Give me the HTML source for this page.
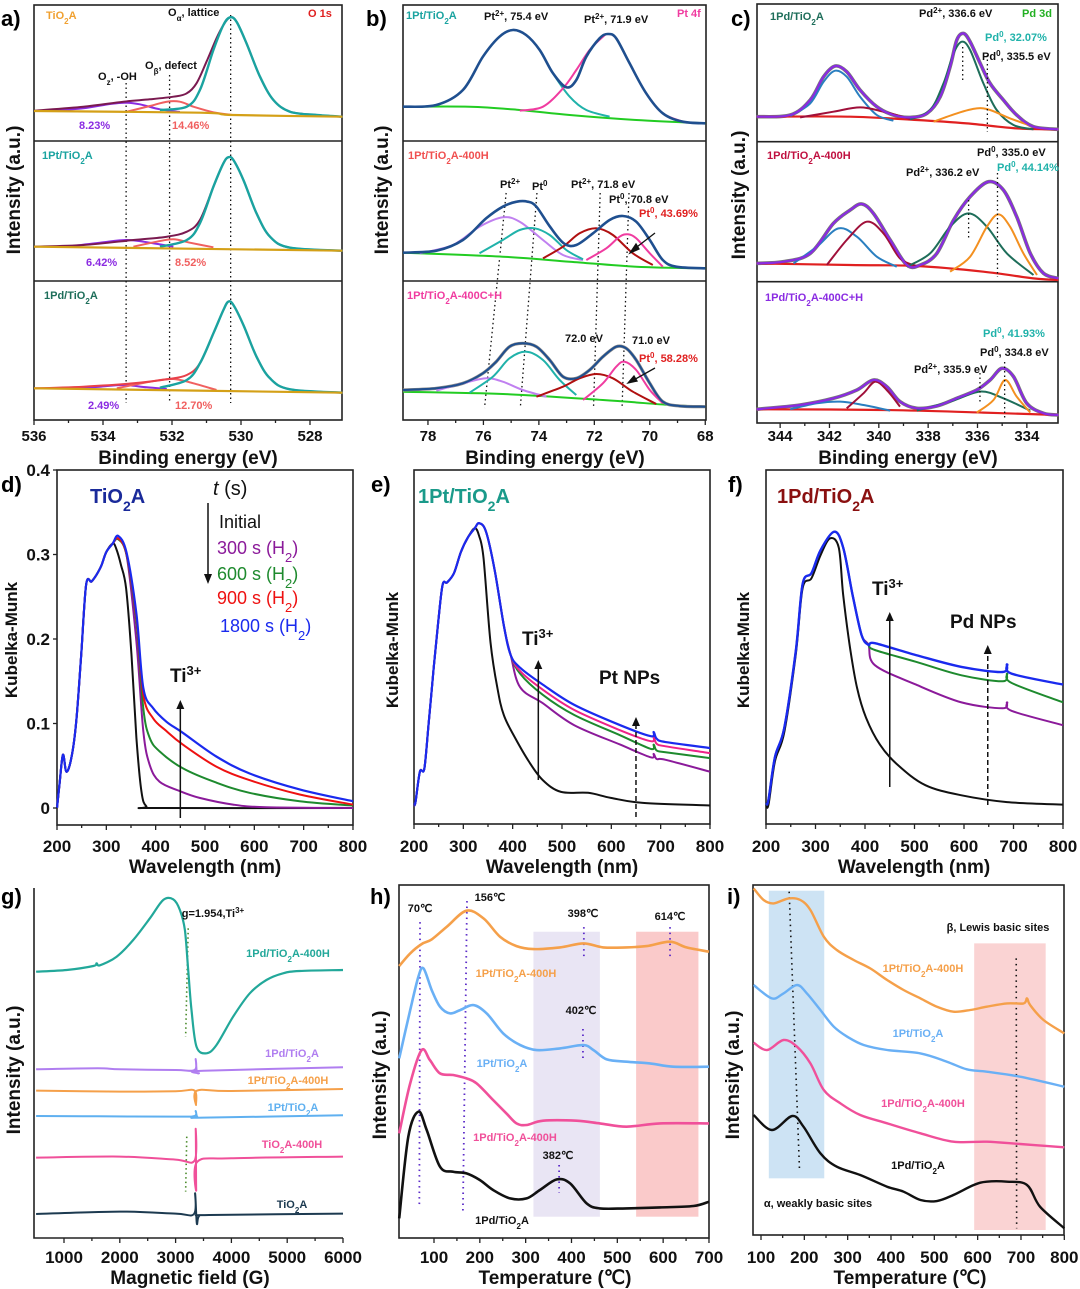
<!DOCTYPE html>
<html><head><meta charset="utf-8"><title>XPS, UV-vis, EPR and TPD panels</title>
<style>
html,body{margin:0;padding:0;background:#fff;}
svg{display:block;font-family:"Liberation Sans",Arial,sans-serif;}
.t{font-weight:bold;}
</style></head>
<body>
<svg id="fig" xmlns="http://www.w3.org/2000/svg" width="1080" height="1289" viewBox="0 0 1080 1289">
<rect x="0" y="0" width="1080" height="1289" fill="#fff"/>
<g id="frames" fill="none" stroke="#222" stroke-width="1.6">
  <rect x="34" y="5" width="308" height="415"/>
  <line x1="34" y1="141" x2="342" y2="141"/>
  <line x1="34" y1="281" x2="342" y2="281"/>
  <rect x="403" y="5" width="303" height="415"/>
  <line x1="403" y1="141" x2="706" y2="141"/>
  <line x1="403" y1="281" x2="706" y2="281"/>
  <rect x="757" y="4" width="301" height="419"/>
  <line x1="757" y1="141.7" x2="1058" y2="141.7"/>
  <line x1="757" y1="281.7" x2="1058" y2="281.7"/>
  <rect x="57" y="470" width="296" height="355"/>
  <rect x="414" y="470" width="296" height="354"/>
  <rect x="766" y="470" width="297" height="354"/>
  <polyline points="34,888 34,1238 343,1238"/>
  <rect x="399" y="885" width="310" height="353"/>
  <rect x="753" y="885" width="311" height="350"/>
</g>
<g id="plots"></g>
<g id="ticks"></g>

<g class="t" font-size="22" fill="#000">
  <text x="1" y="26">a)</text>
  <text x="366" y="26">b)</text>
  <text x="731" y="26">c)</text>
  <text x="1" y="492">d)</text>
  <text x="371" y="492">e)</text>
  <text x="728" y="492">f)</text>
  <text x="1" y="904">g)</text>
  <text x="370" y="904">h)</text>
  <text x="727" y="904">i)</text>
</g>

<g class="t" font-size="19" fill="#111" text-anchor="middle">
  <text x="188" y="464">Binding energy (eV)</text>
  <text x="555" y="464">Binding energy (eV)</text>
  <text x="908" y="464">Binding energy (eV)</text>
  <text x="205" y="873">Wavelength (nm)</text>
  <text x="562" y="873">Wavelength (nm)</text>
  <text x="914" y="873">Wavelength (nm)</text>
  <text x="190" y="1284">Magnetic field (G)</text>
  <text x="555" y="1284">Temperature (℃)</text>
  <text x="910" y="1284">Temperature (℃)</text>
  <text transform="translate(20,190) rotate(-90)">Intensity (a.u.)</text>
  <text transform="translate(388,190) rotate(-90)">Intensity (a.u.)</text>
  <text transform="translate(745,195) rotate(-90)">Intensity (a.u.)</text>
  <text font-size="17" transform="translate(17,640) rotate(-90)">Kubelka-Munk</text>
  <text font-size="17" transform="translate(398,650) rotate(-90)">Kubelka-Munk</text>
  <text font-size="17" transform="translate(749,650) rotate(-90)">Kubelka-Munk</text>
  <text transform="translate(20,1070) rotate(-90)">Intensity (a.u.)</text>
  <text transform="translate(386,1075) rotate(-90)">Intensity (a.u.)</text>
  <text transform="translate(739,1075) rotate(-90)">Intensity (a.u.)</text>
</g>

<g class="t" font-size="11">
  <text x="46" y="19" fill="#f0a030">TiO<tspan font-size="8" baseline-shift="sub">2</tspan>A</text>
  <text x="168" y="16" fill="#111">O<tspan font-size="8" baseline-shift="sub">α</tspan>, lattice</text>
  <text x="308" y="17" fill="#e02020">O 1s</text>
  <text x="98" y="80" fill="#111">O<tspan font-size="8" baseline-shift="sub">z</tspan>, -OH</text>
  <text x="145" y="69" fill="#111">O<tspan font-size="8" baseline-shift="sub">β</tspan>, defect</text>
  <text x="79" y="129" fill="#8b2be2">8.23%</text>
  <text x="172" y="129" fill="#f06060">14.46%</text>
  <text x="42" y="159" fill="#1aa3a0">1Pt/TiO<tspan font-size="8" baseline-shift="sub">2</tspan>A</text>
  <text x="86" y="266" fill="#8b2be2">6.42%</text>
  <text x="175" y="266" fill="#f06060">8.52%</text>
  <text x="44" y="299" fill="#1e6e5a">1Pd/TiO<tspan font-size="8" baseline-shift="sub">2</tspan>A</text>
  <text x="88" y="409" fill="#8b2be2">2.49%</text>
  <text x="175" y="409" fill="#f06060">12.70%</text>
</g>
<g class="t" font-size="11">
  <text x="406" y="19" fill="#1aa3a0">1Pt/TiO<tspan font-size="8" baseline-shift="sub">2</tspan>A</text>
  <text x="484" y="20" fill="#111">Pt<tspan font-size="8" baseline-shift="super">2+</tspan>, 75.4 eV</text>
  <text x="584" y="23" fill="#111">Pt<tspan font-size="8" baseline-shift="super">2+</tspan>, 71.9 eV</text>
  <text x="677" y="17" fill="#f03ca0">Pt 4f</text>
  <text x="408" y="159" fill="#f05050">1Pt/TiO<tspan font-size="8" baseline-shift="sub">2</tspan>A-400H</text>
  <text x="500" y="188" fill="#111">Pt<tspan font-size="8" baseline-shift="super">2+</tspan></text>
  <text x="532" y="190" fill="#111">Pt<tspan font-size="8" baseline-shift="super">0</tspan></text>
  <text x="571" y="188" fill="#111">Pt<tspan font-size="8" baseline-shift="super">2+</tspan>, 71.8 eV</text>
  <text x="609" y="203" fill="#111">Pt<tspan font-size="8" baseline-shift="super">0</tspan>, 70.8 eV</text>
  <text x="639" y="217" fill="#e02020">Pt<tspan font-size="8" baseline-shift="super">0</tspan>, 43.69%</text>
  <text x="407" y="299" fill="#f03ca0">1Pt/TiO<tspan font-size="8" baseline-shift="sub">2</tspan>A-400C+H</text>
  <text x="565" y="342" fill="#111">72.0 eV</text>
  <text x="632" y="344" fill="#111">71.0 eV</text>
  <text x="639" y="362" fill="#e02020">Pt<tspan font-size="8" baseline-shift="super">0</tspan>, 58.28%</text>
</g>
<g stroke="#111" stroke-width="1.3">
  <line x1="655" y1="233" x2="633" y2="250"/>
  <polygon points="630,253 636,244 639,249" fill="#111"/>
  <line x1="655" y1="368" x2="632" y2="381"/>
  <polygon points="628,383 634,376 637,381" fill="#111"/>
</g>
<g class="t" font-size="11">
  <text x="770" y="20" fill="#1e6e5a">1Pd/TiO<tspan font-size="8" baseline-shift="sub">2</tspan>A</text>
  <text x="919" y="17" fill="#111">Pd<tspan font-size="8" baseline-shift="super">2+</tspan>, 336.6 eV</text>
  <text x="1022" y="17" fill="#22b022">Pd 3d</text>
  <text x="985" y="41" fill="#20b2aa">Pd<tspan font-size="8" baseline-shift="super">0</tspan>, 32.07%</text>
  <text x="982" y="60" fill="#111">Pd<tspan font-size="8" baseline-shift="super">0</tspan>, 335.5 eV</text>
  <text x="767" y="159" fill="#c01040">1Pd/TiO<tspan font-size="8" baseline-shift="sub">2</tspan>A-400H</text>
  <text x="977" y="156" fill="#111">Pd<tspan font-size="8" baseline-shift="super">0</tspan>, 335.0 eV</text>
  <text x="906" y="176" fill="#111">Pd<tspan font-size="8" baseline-shift="super">2+</tspan>, 336.2 eV</text>
  <text x="997" y="171" fill="#20b2aa">Pd<tspan font-size="8" baseline-shift="super">0</tspan>, 44.14%</text>
  <text x="765" y="301" fill="#8a2be2">1Pd/TiO<tspan font-size="8" baseline-shift="sub">2</tspan>A-400C+H</text>
  <text x="983" y="337" fill="#20b2aa">Pd<tspan font-size="8" baseline-shift="super">0</tspan>, 41.93%</text>
  <text x="980" y="356" fill="#111">Pd<tspan font-size="8" baseline-shift="super">0</tspan>, 334.8 eV</text>
  <text x="914" y="373" fill="#111">Pd<tspan font-size="8" baseline-shift="super">2+</tspan>, 335.9 eV</text>
</g>
<g font-size="18">
  <text class="t" x="90" y="503" fill="#1a2a9a" font-size="20">TiO<tspan font-size="14" baseline-shift="sub">2</tspan>A</text>
  <text x="213" y="495" fill="#111" font-size="20"><tspan font-style="italic">t</tspan> (s)</text>
  <line x1="208" y1="503" x2="208" y2="578" stroke="#111" stroke-width="1.5"/>
  <polygon points="204,574 212,574 208,584" fill="#111"/>
  <text x="219" y="528" fill="#111">Initial</text>
  <text x="217" y="554" fill="#8b1a9a">300 s (H<tspan font-size="13" baseline-shift="sub">2</tspan>)</text>
  <text x="217" y="580" fill="#1e8a2e">600 s (H<tspan font-size="13" baseline-shift="sub">2</tspan>)</text>
  <text x="217" y="604" fill="#ee1111">900 s (H<tspan font-size="13" baseline-shift="sub">2</tspan>)</text>
  <text x="220" y="632" fill="#1a2aee">1800 s (H<tspan font-size="13" baseline-shift="sub">2</tspan>)</text>
  <text class="t" x="170" y="682" fill="#111" font-size="19">Ti<tspan font-size="13" baseline-shift="super">3+</tspan></text>
  <text class="t" x="418" y="503" fill="#1a9a8a" font-size="20">1Pt/TiO<tspan font-size="14" baseline-shift="sub">2</tspan>A</text>
  <text class="t" x="522" y="645" fill="#111" font-size="19">Ti<tspan font-size="13" baseline-shift="super">3+</tspan></text>
  <text class="t" x="599" y="684" fill="#111" font-size="19">Pt NPs</text>
  <text class="t" x="777" y="503" fill="#8a1010" font-size="20">1Pd/TiO<tspan font-size="14" baseline-shift="sub">2</tspan>A</text>
  <text class="t" x="872" y="595" fill="#111" font-size="19">Ti<tspan font-size="13" baseline-shift="super">3+</tspan></text>
  <text class="t" x="950" y="628" fill="#111" font-size="19">Pd NPs</text>
</g>
<g class="t" font-size="11" text-anchor="middle">
  <text x="213" y="917" fill="#111">g=1.954,Ti<tspan font-size="8" baseline-shift="super">3+</tspan></text>
  <text x="288" y="957" fill="#22a89a">1Pd/TiO<tspan font-size="8" baseline-shift="sub">2</tspan>A-400H</text>
  <text x="292" y="1057" fill="#b07ef0">1Pd/TiO<tspan font-size="8" baseline-shift="sub">2</tspan>A</text>
  <text x="288" y="1084" fill="#f5a04a">1Pt/TiO<tspan font-size="8" baseline-shift="sub">2</tspan>A-400H</text>
  <text x="293" y="1111" fill="#5fb0f0">1Pt/TiO<tspan font-size="8" baseline-shift="sub">2</tspan>A</text>
  <text x="292" y="1148" fill="#f0509a">TiO<tspan font-size="8" baseline-shift="sub">2</tspan>A-400H</text>
  <text x="292" y="1208" fill="#1c3a50">TiO<tspan font-size="8" baseline-shift="sub">2</tspan>A</text>
</g>
<g class="t" font-size="11" text-anchor="middle">
  <text x="420" y="912" fill="#111">70℃</text>
  <text x="490" y="901" fill="#111">156℃</text>
  <text x="583" y="917" fill="#111">398℃</text>
  <text x="670" y="920" fill="#111">614℃</text>
  <text x="581" y="1014" fill="#111">402℃</text>
  <text x="558" y="1159" fill="#111">382℃</text>
  <text x="516" y="977" fill="#f5a04a">1Pt/TiO<tspan font-size="8" baseline-shift="sub">2</tspan>A-400H</text>
  <text x="502" y="1067" fill="#6ab0f5">1Pt/TiO<tspan font-size="8" baseline-shift="sub">2</tspan>A</text>
  <text x="515" y="1141" fill="#f0509a">1Pd/TiO<tspan font-size="8" baseline-shift="sub">2</tspan>A-400H</text>
  <text x="502" y="1224" fill="#111">1Pd/TiO<tspan font-size="8" baseline-shift="sub">2</tspan>A</text>
</g>
<g class="t" font-size="11" text-anchor="middle">
  <text x="998" y="931" fill="#111">β, Lewis basic sites</text>
  <text x="923" y="972" fill="#f5a04a">1Pt/TiO<tspan font-size="8" baseline-shift="sub">2</tspan>A-400H</text>
  <text x="918" y="1037" fill="#6ab0f5">1Pt/TiO<tspan font-size="8" baseline-shift="sub">2</tspan>A</text>
  <text x="923" y="1107" fill="#f0509a">1Pd/TiO<tspan font-size="8" baseline-shift="sub">2</tspan>A-400H</text>
  <text x="918" y="1169" fill="#111">1Pd/TiO<tspan font-size="8" baseline-shift="sub">2</tspan>A</text>
  <text x="818" y="1207" fill="#111">α, weakly basic sites</text>
</g>
</svg>
<script>
// ---------- Panel a (O 1s) ----------
const aTicks=[536,534,532,530,528];
const aPeaks=[533.33,532.07,530.3];
const a1Base=[[536,9.0],[531.19,8.5],[530.22,7.8],[527.06,7.3]];
const a1Env=[[536,9.1],[534.57,10.3],[533.41,11.8],[532.64,12.5],[531.96,13.3],[531.57,14.3],[531.29,17.3],[531.0,23.8],[530.71,30.8],[530.51,34.8],[530.32,37.1],[530.13,35.8],[529.84,29.3],[529.45,19.3],[529.06,12.3],[528.58,8.8],[527.81,7.8],[527.06,7.3]];
const a1Lat=[[532.35,9.3],[531.57,10.3],[531.19,15.3],[530.80,27.3],[530.51,34.8],[530.32,37.1],[530.13,35.8],[529.84,29.3],[529.45,19.3],[529.06,12.3],[528.58,8.8],[527.81,7.8],[527.06,7.3]];
const a1OH=[[535.54,9],[534.57,9.8],[533.80,11.1],[533.36,11.5],[532.93,11],[532.35,9.5],[531.77,8.7]];
const a1Def=[[533.31,8.8],[532.64,10.5],[532.15,11.8],[531.77,11.8],[531.38,10.3],[530.80,8.6],[530.22,7.8]];
const a2Base=[[536,10.3],[527.06,9.1]];
const a2Env=[[536,10.3],[534.57,10.8],[533.12,12.3],[532.15,13.3],[531.57,14.8],[531.19,18.3],[530.80,28.3],[530.51,35.3],[530.37,37.1],[530.22,36.3],[529.93,30.3],[529.55,20.3],[529.16,13.3],[528.58,10.0],[527.06,9.1]];
const a2Lat=[[532.35,10.3],[531.57,12.3],[531.19,17.3],[530.80,28.3],[530.51,35.3],[530.37,37.1],[530.22,36.3],[529.93,30.3],[529.55,20.3],[529.16,13.3],[528.58,10.0],[527.06,9.1]];
const a2OH=[[535.05,10.3],[534.09,11.5],[533.31,12.3],[532.64,11.5],[531.96,10.3]];
const a2Def=[[533.12,10.3],[532.44,11.8],[531.96,12.5],[531.48,11.5],[530.80,10.1]];
const a3Base=[[536,9.5],[527.06,8.2]];
const a3Env=[[536,9.5],[534.57,10],[533.12,11],[532.15,12.2],[531.57,13.5],[531.19,17],[530.80,26],[530.51,33],[530.37,35.5],[530.22,34.5],[529.93,28.5],[529.55,19],[529.16,12.5],[528.58,9.2],[527.06,8.2]];
const a3Lat=[[532.35,9.7],[531.57,12.0],[531.19,17],[530.80,26],[530.51,33],[530.37,35.5],[530.22,34.5],[529.93,28.5],[529.55,19],[529.16,12.5],[528.58,9.2],[527.06,8.2]];
const a3OH=[[534.76,9.5],[534.09,10],[533.41,10.5],[532.73,9.8],[532.15,9.3]];
const a3Def=[[533.60,9.5],[532.64,11.5],[531.96,12.3],[531.38,11],[530.71,9]];
// ---------- Panel b (Pt 4f) ----------
const bTicks=[78,76,74,72,70,68];
const b1Base=[[78.9,10.3],[76.5,10.3],[74.69,9.3],[72.89,7.8],[70.49,6.3],[68,5.3]];
const b1Env=[[78.9,10.3],[77.7,10.8],[76.74,15.3],[76.02,25.3],[75.42,31.3],[74.94,33.3],[74.46,31.8],[73.97,27.3],[73.49,20.3],[73.01,16.1],[72.65,18.3],[72.29,25.3],[71.81,30.8],[71.51,32.1],[71.21,30.8],[70.73,23.3],[70.13,14.3],[69.53,8.3],[68.81,5.8],[68,5.3]];
const b1Pt2a=[[78.9,10.3],[77.7,10.8],[76.74,15.3],[76.02,25.3],[75.42,31.3],[74.94,33.3],[74.46,31.8],[73.97,27.3],[73.49,20.3],[72.89,13.3],[72.29,9.3],[71.45,7.3]];
const b1Pt2b=[[74.69,9.1],[73.85,10.3],[73.13,15.8],[72.65,21.3],[72.17,27.3],[71.69,31.3],[71.51,32.1],[71.21,30.8],[70.73,23.3],[70.13,14.3],[69.53,8.3],[68.81,5.8]];
const b2Base=[[78.9,8.5],[75.3,7.3],[72.89,5.8],[70.49,4.3],[68,3.8]];
const b2Env=[[78.9,8.5],[77.7,9.1],[76.74,12.3],[75.9,18.8],[75.3,22.3],[74.8,23.8],[74.4,23.8],[74.09,22.3],[73.6,16.3],[73.1,11.3],[72.65,10.8],[72.05,14.3],[71.45,18.3],[70.97,19.5],[70.49,17.8],[70.0,12.3],[69.53,6.3],[69.05,4.3],[68,3.8]];
const b2Pt2=[[78.3,8.3],[77.1,10.8],[76.14,16.3],[75.3,19.1],[74.69,17.8],[73.85,12.3],[73.13,7.8],[72.41,6.3]];
const b2Pt0=[[76.14,8.3],[75.3,12.3],[74.69,15.3],[74.15,15.8],[73.61,13.8],[73.01,9.3],[72.41,6.5]];
const b2Pt2b=[[73.85,6.8],[73.13,10.3],[72.53,14.3],[71.93,15.8],[71.33,13.8],[70.61,8.3],[69.89,4.8]];
const b2Pt0b=[[72.29,6.3],[71.57,9.8],[71.09,13.3],[70.79,14.0],[70.49,12.8],[70.0,8.3],[69.53,4.3]];
const b3Base=[[78.9,8.5],[75.3,7.8],[71.69,6.0],[69.29,4.5],[68,4.0]];
const b3Env=[[78.9,9],[77.7,9.5],[76.74,11],[76.02,14],[75.54,17.5],[75.06,22],[74.58,23],[74.09,22],[73.61,18],[73.13,13],[72.65,12.5],[72.17,15],[71.69,19],[71.21,22],[70.85,21.5],[70.49,18],[70.0,11],[69.53,5.5],[68.93,4.2],[68,4]];
const b3Pt2=[[77.7,8.8],[76.74,11],[75.9,12.5],[75.3,11.5],[74.58,9],[73.73,7]];
const b3Pt0=[[76.5,8.2],[75.66,13],[75.06,18.5],[74.45,20.5],[73.85,18],[73.25,12],[72.65,7.5]];
const b3Pt2b=[[74.09,7],[73.13,10],[72.53,12.5],[71.93,13.8],[71.33,12.5],[70.61,8.5],[69.77,4.8]];
const b3Pt0b=[[72.41,6],[71.69,11],[71.21,16],[70.91,17.5],[70.49,15],[70.0,9],[69.53,5]];
const bGuides=[[75.18,75.96],[74.07,74.67],[71.79,72.03],[70.75,71.0]];
// ---------- Panel c (Pd 3d) ----------
const cTicks=[344,342,340,338,336,334];
const c1Base=[[344.95,7.5],[341.16,7.5],[338.46,6.5],[336.43,5.5],[334.41,4.0],[332.72,3.7]];
const c1Env=[[344.95,7.5],[343.59,8],[342.78,12.5],[342.24,19.5],[341.77,22.7],[341.30,21],[340.76,15.5],[340.08,10.5],[339.41,8],[338.73,7.3],[338.05,8.5],[337.51,13.5],[337.11,22.5],[336.84,30.5],[336.57,32.5],[336.30,30],[335.89,23.5],[335.49,17.5],[334.95,12.5],[334.41,8],[333.73,4.5],[332.72,3.7]];
const c1Pd2a=[[343.59,7.7],[342.78,11.5],[342.24,18],[341.77,21.3],[341.30,19.5],[340.76,13.5],[340.08,8],[339.41,6.3]];
const c1Pd2b=[[343.19,7.3],[341.84,9],[340.76,10.3],[339.81,9],[338.73,6.8]];
const c1Pd2c=[[338.73,6.7],[337.92,9.5],[337.38,17.5],[336.97,26.5],[336.64,30],[336.30,27.5],[335.76,17.5],[335.22,9.5],[334.54,5],[333.73,3.7]];
const c1Pd0=[[337.78,6],[336.84,8.5],[336.03,10],[335.49,9.5],[334.68,7],[333.73,4.5]];
const c2Base=[[344.95,5.5],[341.16,5],[338.46,4.7],[335.76,3],[333.73,1],[332.72,0.5]];
const c2Env=[[344.95,5.5],[343.86,6],[342.78,8.5],[341.84,17.5],[341.16,21.5],[340.69,23.3],[340.22,20.5],[339.54,12.5],[338.86,5],[338.32,5],[337.65,8.5],[336.97,18.5],[336.30,25.5],[335.55,30],[334.95,27.5],[334.41,19.5],[333.86,8.5],[333.32,2.5],[332.72,1]];
const c2Pd2a=[[343.46,5.5],[342.51,10.5],[341.64,16],[340.89,13.5],[340.08,7.5],[339.27,4.5]];
const c2Pd2b=[[342.11,5],[341.30,12.5],[340.49,18],[339.81,14.5],[339.14,7],[338.46,4.7]];
const c2Pd2c=[[338.86,4.5],[337.92,8.5],[337.11,16.5],[336.36,20.5],[335.62,16.5],[334.81,8.5],[333.73,2]];
const c2Pd0=[[337.11,3],[336.30,7.5],[335.62,16.5],[335.15,20.2],[334.68,16.5],[334.14,8.5],[333.59,2]];
const c3Base=[[344.95,4.2],[339.81,4],[335.76,3.2],[332.72,2.5]];
const c3Env=[[344.95,4.2],[343.19,5.5],[341.84,7.5],[340.89,10],[340.22,13],[339.68,11],[339.14,6.5],[338.46,4.5],[337.65,5.2],[336.84,7.5],[336.03,10],[335.49,13],[335.01,16.5],[334.54,14],[334.0,6],[333.32,3],[332.72,2.5]];
const c3Pd2a=[[343.59,4.2],[342.51,6],[341.57,6.5],[340.62,5.5],[339.54,3.8]];
const c3Pd2b=[[341.30,4.5],[340.62,9],[340.15,12.5],[339.68,10],[339.14,5]];
const c3Pd2c=[[338.46,3.8],[337.11,6.5],[335.89,9.5],[334.95,7.5],[333.86,3.8]];
const c3Pd0=[[336.03,3.2],[335.35,7],[334.88,13],[334.41,8],[333.86,3.2]];
const cGuides1=[336.6,335.6];
const cGuides2=[336.36,335.19];
const cGuides3=[335.9,334.9];
// ---------- Panel d/e/f (Kubelka-Munk) ----------
const dxTicks=[200,300,400,500,600,700,800];
const dyTicks=[0,0.1,0.2,0.3,0.4];
const dyLabels=["0","0.1","0.2","0.3","0.4"];
const dRise=[[200,0],[205,0.028],[212,0.063],[219,0.043],[229,0.059],[239,0.102],[249,0.181],[259,0.264],[270,0.268],[280,0.276],[290,0.287],[300,0.303],[313,0.313]];
const dInit=[[320,0.307],[330,0.287],[340,0.260],[351,0.181],[361,0.083],[371,0.020],[381,0.002],[401,0],[800,0]];
const d300=[[324,0.318],[341,0.299],[361,0.197],[375,0.091],[388,0.051],[408,0.031],[449,0.020],[489,0.012],[557,0.004],[624,0.001],[800,0]];
const d600=[[324,0.318],[341,0.299],[361,0.22],[375,0.118],[388,0.083],[408,0.067],[455,0.047],[523,0.030],[590,0.018],[692,0.008],[800,0.003]];
const d900=[[324,0.319],[341,0.300],[361,0.225],[375,0.134],[395,0.106],[422,0.091],[455,0.075],[523,0.049],[590,0.033],[692,0.016],[800,0.004]];
const d1800=[[324,0.322],[341,0.302],[361,0.23],[375,0.142],[395,0.118],[422,0.102],[455,0.089],[523,0.061],[590,0.041],[692,0.022],[800,0.008]];
const eRise=[[200,0.004],[203,0.007],[212,0.043],[221,0.047],[230,0.102],[240,0.166],[249,0.220],[258,0.264],[267,0.267],[281,0.278],[295,0.303],[309,0.320],[323,0.331]];
const eInit=[[332,0.322],[341,0.295],[355,0.196],[369,0.142],[382,0.110],[405,0.083],[433,0.055],[461,0.033],[498,0.019],[553,0.018],[599,0.012],[664,0.006],[800,0.003]];
const eTop=[[332,0.337],[346,0.327],[364,0.280],[383,0.213],[396,0.181]];
const e1800=[[415,0.166],[461,0.146],[525,0.122],[618,0.098],[680,0.085],[686,0.090],[692,0.082],[710,0.078],[800,0.071]];
const e900=[[415,0.162],[461,0.140],[525,0.116],[618,0.092],[680,0.079],[686,0.084],[692,0.076],[710,0.073],[800,0.065]];
const e600=[[415,0.159],[461,0.134],[525,0.110],[618,0.086],[680,0.070],[686,0.075],[692,0.068],[710,0.066],[800,0.059]];
const e300=[[415,0.143],[461,0.124],[525,0.098],[618,0.075],[680,0.060],[686,0.064],[692,0.058],[710,0.057],[800,0.043]];
const fInit=[[200,0.004],[205,0.004],[218,0.055],[237,0.090],[260,0.181],[274,0.260],[292,0.272],[310,0.299],[329,0.319],[347,0.308],[356,0.252],[370,0.189],[384,0.142],[402,0.107],[430,0.075],[466,0.051],[522,0.027],[595,0.015],[687,0.007],[800,0.004]];
const fTop=[[200,0.004],[205,0.010],[218,0.060],[237,0.095],[260,0.185],[274,0.265],[292,0.278],[310,0.305],[338,0.327],[356,0.308],[375,0.252],[393,0.205],[407,0.193]];
const f1800=[[420,0.195],[503,0.181],[595,0.167],[678,0.161],[687,0.170],[696,0.159],[800,0.146]];
const f600=[[420,0.187],[503,0.173],[595,0.157],[678,0.150],[687,0.159],[696,0.148],[800,0.125]];
const f300=[[420,0.169],[503,0.146],[595,0.125],[678,0.118],[687,0.125],[696,0.115],[800,0.098]];
// ---------- Panel g (EPR) ----------
const gTicks=[1000,2000,3000,4000,5000,6000];
const g1Pd400H=[[500,80],[1048,80.5],[1525,81.7],[1585,82.5],[1644,81.9],[1943,84.5],[2241,89.5],[2539,96],[2778,101.5],[2957,101.7],[3077,98.5],[3166,92.5],[3226,80.5],[3285,68.5],[3375,57.5],[3554,55.5],[3733,58],[4031,66.5],[4330,73.5],[4628,77.5],[4926,79.5],[5225,80.2],[6000,80.5]];
const g1Pd=[[500,50.7],[1600,51],[2000,50.7],[3000,50.5],[3340,50.5],[3360,53.8],[3380,50],[3420,49.5],[3500,50.3],[6000,51.3]];
const g1Pt400H=[[500,44.3],[2000,44.0],[3000,44.1],[3340,44.3],[3365,40],[3385,44.3],[4000,44.2],[6000,44.8]];
const g1Pt=[[500,36.7],[1600,36.6],[3000,36.5],[3340,36.7],[3360,38.2],[3390,36.4],[3500,36.2],[6000,36.9]];
const gTi400H=[[500,24.2],[2000,24.5],[3000,23.6],[3340,23.3],[3360,32.7],[3370,14.5],[3390,23.0],[4000,24],[6000,24.5]];
const gTi=[[500,7.3],[2000,8],[3000,7.4],[3330,7.3],[3350,13.5],[3380,4.5],[3420,6.6],[3600,7.0],[6000,7.4]];
const gGuide=[[3226,93],[3180,60.5],[3200,30.5],[3180,14]];
// ---------- Panel h (H2-TPD) ----------
const hTicks=[100,200,300,400,500,600,700];
const hOrange=[[24,81.5],[48,85.3],[73,88.1],[95,89.5],[128,93.3],[171,98.1],[208,95.8],[244,90.3],[280,87.5],[317,86.6],[375,87.1],[426,88.3],[469,87.1],[520,87.1],[564,87.5],[615,88.8],[651,87.1],[700,85.8]];
const hBlue=[[24,53.8],[48,68.3],[66,78.3],[77,80.8],[95,74.3],[113,69.3],[135,67.3],[157,68.3],[186,69.8],[215,67.3],[251,61.3],[288,57.8],[324,56.3],[375,56.8],[426,57.8],[448,56.3],[477,53.5],[520,52.8],[571,52.3],[622,51.3],[700,51.3]];
const hPink=[[24,31.3],[48,46.3],[73,56.3],[91,53.3],[113,49.3],[142,48.8],[171,47.8],[193,46.3],[229,41.3],[258,37.3],[280,34.3],[302,33.8],[338,35.1],[411,35.1],[462,34.3],[520,33.3],[593,34.3],[700,34.3]];
const hBlack=[[24,5.8],[44,30.3],[66,37.8],[84,32.3],[113,21.3],[142,19.8],[171,19.3],[200,17.3],[229,14.3],[266,11.8],[302,11.8],[331,14.3],[368,17.5],[397,16.3],[433,10.3],[462,8.8],[520,8.8],[593,9.1],[666,9.5],[700,10.8]];
const hBands=[[317,462,91.8,6.3],[541,677,91.8,6.3]];
const hGuides=[[69.5,68,94.7,8.9],[172,163,101,7.4],[427,427,93.2,84.2],[615,615,93.2,84.2],[425,425,62.6,53.6],[373,373,21.8,13.4]];
// ---------- Panel i (CO2-TPD) ----------
const iTicks=[100,200,300,400,500,600,700,800];
const iOrange=[[83,104],[106,100.5],[129,99.5],[164,101],[191,100.5],[214,97.5],[245,89.5],[275,85.5],[314,82.5],[352,80],[391,76.5],[429,73.5],[468,71],[506,68.5],[544,67],[583,67.5],[621,68.5],[668,69.5],[706,69.5],[714,71],[721,69],[752,64.5],[800,60.5]];
const iBlue=[[83,75],[125,71],[152,72.5],[183,75],[206,72.5],[237,67.5],[268,62.5],[299,59.5],[337,57],[391,55.5],[468,54.5],[529,52],[575,49.7],[621,49],[698,47.5],[800,44.5]];
const iPink=[[83,57.7],[114,55.5],[152,58.5],[183,56.5],[214,51.5],[245,43.5],[283,39.5],[329,36],[391,33.5],[468,30.5],[544,28],[621,28],[698,27.3],[800,26.3]];
const iBlack=[[83,36],[125,31.5],[172,35.7],[198,32.5],[237,24.5],[275,20.5],[329,18],[391,14.5],[429,13],[468,10.5],[506,10.2],[544,12],[591,15],[621,16],[668,16],[714,15],[744,8.5],[800,2]];
const iBands=[[118,246,103.3,17,"#bcd9f0"],[592,757,87.5,1.5,"#f8c4c4"]];
const iGuides=[[165,189,103,19],[689,690,83,2]];

// ---------- drawing ----------
const NS="http://www.w3.org/2000/svg";
const plots=document.getElementById('plots');
const tickLayer=document.getElementById('ticks');
function smooth(p){
  if(p.length<2) return "";
  let d="M"+p[0][0].toFixed(1)+","+p[0][1].toFixed(1);
  for(let i=0;i<p.length-1;i++){
    const p0=p[i-1]||p[i],p1=p[i],p2=p[i+1],p3=p[i+2]||p2;
    const c1x=p1[0]+(p2[0]-p0[0])/6,c1y=p1[1]+(p2[1]-p0[1])/6;
    const c2x=p2[0]-(p3[0]-p1[0])/6,c2y=p2[1]-(p3[1]-p1[1])/6;
    d+="C"+c1x.toFixed(1)+","+c1y.toFixed(1)+" "+c2x.toFixed(1)+","+c2y.toFixed(1)+" "+p2[0].toFixed(1)+","+p2[1].toFixed(1);
  }
  return d;
}
function curve(data,sx,sy,color,w,name,dash){
  const p=document.createElementNS(NS,'path');
  
  
  p.setAttribute('d',smooth(data.map(q=>[sx(q[0]),sy(q[1])])));
  p.setAttribute('fill','none');
  p.setAttribute('stroke',color);
  p.setAttribute('stroke-width',w);
  p.setAttribute('stroke-linejoin','round');
  if(dash) p.setAttribute('stroke-dasharray',dash);
  plots.appendChild(p);
}
function seg(x1,y1,x2,y2,color,w,name,dash){
  const l=document.createElementNS(NS,'line');
  
  
  l.setAttribute('x1',x1);l.setAttribute('y1',y1);l.setAttribute('x2',x2);l.setAttribute('y2',y2);
  l.setAttribute('stroke',color);l.setAttribute('stroke-width',w);
  if(dash) l.setAttribute('stroke-dasharray',dash);
  plots.appendChild(l);
}
function band(x1,x2,y1,y2,color,name){
  const r=document.createElementNS(NS,'rect');
  
  
  r.setAttribute('x',Math.min(x1,x2));r.setAttribute('y',Math.min(y1,y2));
  r.setAttribute('width',Math.abs(x2-x1));r.setAttribute('height',Math.abs(y2-y1));
  r.setAttribute('fill',color);r.setAttribute('opacity','0.75');
  plots.appendChild(r);
}
function label(x,y,txt,size,anchor,name){
  const t=document.createElementNS(NS,'text');
  
  
  t.setAttribute('x',x);t.setAttribute('y',y);
  t.setAttribute('font-size',size);t.setAttribute('font-weight','bold');
  t.setAttribute('text-anchor',anchor);t.setAttribute('fill','#111');
  t.textContent=txt;
  tickLayer.appendChild(t);
}
function tickmark(x1,y1,x2,y2,name){
  const l=document.createElementNS(NS,'line');
  
  
  l.setAttribute('x1',x1);l.setAttribute('y1',y1);l.setAttribute('x2',x2);l.setAttribute('y2',y2);
  l.setAttribute('stroke','#222');l.setAttribute('stroke-width','1.3');
  tickLayer.appendChild(l);
}
function xAxis(ticks,sx,yb,ly,size,minorStep,prefix){
  ticks.forEach(v=>{tickmark(sx(v),yb,sx(v),yb+5,prefix+'-tick');label(sx(v),ly,String(v),size,'middle',prefix+'-tick-label');});
  if(minorStep){
    const lo=Math.min(...ticks),hi=Math.max(...ticks);
    for(let v=lo+minorStep;v<hi;v+=2*minorStep){tickmark(sx(v),yb,sx(v),yb+3,prefix+'-minor-tick');}
  }
}
const xa=E=>34+(536-E)*34.5;
const xb=E=>403+(78.9-E)*27.73;
const xc=E=>756.7+(344.95-E)*24.67;
const sub=b=>(v=>b-v*3.333);
const ya1=sub(141),ya2=sub(281),ya3=sub(420);
const yc1=sub(141.7),yc2=sub(281.7),yc3=sub(423.3);
const xd=n=>57+(n-200)*0.4933, yd=v=>808-v*845;
const xe=n=>414+(n-200)*0.4933;
const xf=n=>766+(n-200)*0.495;
const xg=G=>64+(G-1000)*0.0558, yg=v=>1238.3-v*3.333;
const xh=T=>434+(T-100)*0.4583, yh=v=>1237.7-v*3.333;
const xi=T=>761+(T-100)*0.4333, yi=v=>1235-v*3.333;

// panel a
aPeaks.forEach((E,k)=>seg(xa(E),[83,75,15][k],xa(E),403,'#111',1.3,'a-peak-guide','1.5,3'));
[[a1Base,a1Env,a1Lat,a1OH,a1Def,ya1,'#7a1a50'],[a2Base,a2Env,a2Lat,a2OH,a2Def,ya2,'#7a1a50'],[a3Base,a3Env,a3Lat,a3OH,a3Def,ya3,'#e8404a']].forEach((s,k)=>{
  curve(s[3],xa,s[5],'#8b2be2',2,'a'+(k+1)+'-oh-component');
  curve(s[4],xa,s[5],'#f06060',2,'a'+(k+1)+'-defect-component');
  curve(s[1],xa,s[5],s[6],2,'a'+(k+1)+'-envelope');
  curve(s[2],xa,s[5],'#1aa3a0',2.4,'a'+(k+1)+'-lattice-component');
  curve(s[0],xa,s[5],'#d4a017',2.2,'a'+(k+1)+'-baseline');
});
xAxis(aTicks,xa,420,441,15,1,'a-x');
// panel b
const yb1=sub(141),yb2=sub(281),yb3=sub(420);
bGuides.forEach(g=>seg(xb(g[0]),193,xb(g[1]),408,'#111',1.3,'b-peak-guide','1.5,3'));
curve(b1Base,xb,yb1,'#22cc22',2,'b1-baseline');
curve(b1Pt2a,xb,yb1,'#20b2aa',2,'b1-pt2-754');
curve(b1Pt2b,xb,yb1,'#f03ca0',2,'b1-pt2-719');
curve(b1Env,xb,yb1,'#1f4f8f',2.6,'b1-envelope');
curve(b2Base,xb,yb2,'#22cc22',2,'b2-baseline');
curve(b2Pt2,xb,yb2,'#c080f0',2,'b2-pt2');
curve(b2Pt0,xb,yb2,'#20b2aa',2,'b2-pt0');
curve(b2Pt2b,xb,yb2,'#b01010',2,'b2-pt2-718');
curve(b2Pt0b,xb,yb2,'#f03ca0',2,'b2-pt0-708');
curve(b2Env,xb,yb2,'#1f4f8f',2.6,'b2-envelope');
curve(b3Base,xb,yb3,'#22cc22',2,'b3-baseline');
curve(b3Env,xb,yb3,'#888',3.2,'b3-raw-data');
curve(b3Pt2,xb,yb3,'#c080f0',2,'b3-pt2');
curve(b3Pt0,xb,yb3,'#20b2aa',2,'b3-pt0');
curve(b3Pt2b,xb,yb3,'#b01010',2,'b3-pt2-720');
curve(b3Pt0b,xb,yb3,'#f03ca0',2,'b3-pt0-710');
curve(b3Env,xb,yb3,'#1f4f8f',2,'b3-envelope');
xAxis(bTicks,xb,420,441,15,1,'b-x');
// panel c
[[c1Base,c1Env,c1Pd2a,c1Pd2b,c1Pd2c,c1Pd0,yc1],[c2Base,c2Env,c2Pd2a,c2Pd2b,c2Pd2c,c2Pd0,yc2],[c3Base,c3Env,c3Pd2a,c3Pd2b,c3Pd2c,c3Pd0,yc3]].forEach((s,k)=>{
  const n='c'+(k+1);
  curve(s[1],xc,s[6],'#777',3.6,n+'-raw-data');
  curve(s[0],xc,s[6],'#e02020',2.2,n+'-baseline');
  curve(s[2],xc,s[6],'#2a7fc0',2,n+'-pd2-52-blue');
  curve(s[3],xc,s[6],'#a0103a',2,n+'-pd-52-maroon');
  curve(s[4],xc,s[6],'#1e6e5a',2,n+'-pd2-52-green');
  curve(s[5],xc,s[6],'#f39020',2,n+'-pd0-orange');
  curve(s[1],xc,s[6],'#8a2be2',2.2,n+'-envelope');
});
seg(xc(cGuides1[0]),47,xc(cGuides1[0]),83,'#111',1.3,'c1-guide-pd2','1.5,3');
seg(xc(cGuides1[1]),55,xc(cGuides1[1]),132,'#111',1.3,'c1-guide-pd0','1.5,3');
seg(xc(cGuides2[0]),200,xc(cGuides2[0]),240,'#111',1.3,'c2-guide-pd2','1.5,3');
seg(xc(cGuides2[1]),173,xc(cGuides2[1]),277,'#111',1.3,'c2-guide-pd0','1.5,3');
seg(xc(cGuides3[0]),373,xc(cGuides3[0]),403,'#111',1.3,'c3-guide-pd2','1.5,3');
seg(xc(cGuides3[1]),362,xc(cGuides3[1]),420,'#111',1.3,'c3-guide-pd0','1.5,3');
xAxis(cTicks,xc,423,441,15,1,'c-x');
// panel d
curve(dRise.concat(dInit),xd,yd,'#111',2,'d-initial');
curve(dRise.concat(d300),xd,yd,'#8b1a9a',2,'d-300s');
curve(dRise.concat(d600),xd,yd,'#1e8a2e',2,'d-600s');
curve(dRise.concat(d900),xd,yd,'#ee1111',2,'d-900s');
curve(dRise.concat(d1800),xd,yd,'#1a2aee',2.2,'d-1800s');
seg(xd(450),818,xd(450),705,'#111',1.5,'d-ti3-arrow');
xAxis(dxTicks,xd,825,852,17,50,'d-x');
dyTicks.forEach((v,k)=>{tickmark(57,yd(v),53,yd(v),'d-y-tick');label(50,yd(v)+6,dyLabels[k],17,'end','d-y-tick-label');});
// panel e
curve(eRise.concat(eInit),xe,yd,'#111',2,'e-initial');
curve(eRise.concat(eTop,e300),xe,yd,'#8b1a9a',2,'e-300s');
curve(eRise.concat(eTop,e600),xe,yd,'#1e8a2e',2,'e-600s');
curve(eRise.concat(eTop,e900),xe,yd,'#ee2288',2,'e-900s');
curve(eRise.concat(eTop,e1800),xe,yd,'#1a2aee',2.2,'e-1800s');
seg(xe(452),780,xe(452),665,'#111',1.5,'e-ti3-arrow');
seg(xe(650),817,xe(650),722,'#111',1.5,'e-pt-arrow','5,3');
xAxis(dxTicks,xe,824,852,17,50,'e-x');
// panel f
curve(fInit,xf,yd,'#111',2,'f-initial');
curve(fTop.concat(f300),xf,yd,'#8b1a9a',2,'f-300s');
curve(fTop.concat(f600),xf,yd,'#1e8a2e',2,'f-600s');
curve(fTop.concat(f1800),xf,yd,'#1a2aee',2.4,'f-1800s');
seg(xf(450),787,xf(450),617,'#111',1.5,'f-ti3-arrow');
seg(xf(648),805,xf(648),650,'#111',1.5,'f-pd-arrow','5,3');
xAxis(dxTicks,xf,824,852,17,50,'f-x');
[[xd(450),700],[xe(452),660],[xe(650),717],[xf(450),612],[xf(648),645]].forEach(a=>{
  const pg=document.createElementNS(NS,'polygon');
  
  
  pg.setAttribute('points',(a[0]-4)+','+(a[1]+9)+' '+(a[0]+4)+','+(a[1]+9)+' '+a[0]+','+a[1]);
  pg.setAttribute('fill','#111');
  plots.appendChild(pg);
});
// panel g
seg(xg(gGuide[0][0]),yg(gGuide[0][1]),xg(gGuide[1][0]),yg(gGuide[1][1]),'#4a8a2a',1.6,'g-guide-upper','1.5,3');
seg(xg(gGuide[2][0]),yg(gGuide[2][1]),xg(gGuide[3][0]),yg(gGuide[3][1]),'#4a8a2a',1.6,'g-guide-lower','1.5,3');
curve(g1Pd400H,xg,yg,'#22a89a',2.2,'g-1pd-400h');
curve(g1Pd,xg,yg,'#b07ef0',2,'g-1pd');
curve(g1Pt400H,xg,yg,'#f5a04a',2,'g-1pt-400h');
curve(g1Pt,xg,yg,'#5fb0f0',2,'g-1pt');
curve(gTi400H,xg,yg,'#f0509a',2,'g-tio2a-400h');
curve(gTi,xg,yg,'#1c3a50',2,'g-tio2a');
xAxis(gTicks,xg,1238,1263,17,500,'g-x');
// panel h
hBands.forEach((b,k)=>band(xh(b[0]),xh(b[1]),yh(b[2]),yh(b[3]),k?'#f8b8b8':'#e2dcf0','h-band'));
hGuides.forEach(g=>seg(xh(g[0]),yh(g[2]),xh(g[1]),yh(g[3]),'#5b2bc8',1.8,'h-peak-guide','1.5,4'));
curve(hOrange,xh,yh,'#f5a04a',2.6,'h-1pt-400h');
curve(hBlue,xh,yh,'#6ab0f5',2.6,'h-1pt');
curve(hPink,xh,yh,'#f0509a',2.6,'h-1pd-400h');
curve(hBlack,xh,yh,'#111',2.6,'h-1pd');
xAxis(hTicks,xh,1238,1263,17,50,'h-x');
// panel i
iBands.forEach(b=>band(xi(b[0]),xi(b[1]),yi(b[2]),yi(b[3]),b[4],'i-band'));
iGuides.forEach(g=>seg(xi(g[0]),yi(g[2]),xi(g[1]),yi(g[3]),'#111',1.6,'i-peak-guide','1.5,4'));
curve(iOrange,xi,yi,'#f5a04a',2.4,'i-1pt-400h');
curve(iBlue,xi,yi,'#6ab0f5',2.4,'i-1pt');
curve(iPink,xi,yi,'#f0509a',2.4,'i-1pd-400h');
curve(iBlack,xi,yi,'#111',2.4,'i-1pd');
xAxis(iTicks,xi,1235,1263,17,50,'i-x');
</script>
</body></html>
